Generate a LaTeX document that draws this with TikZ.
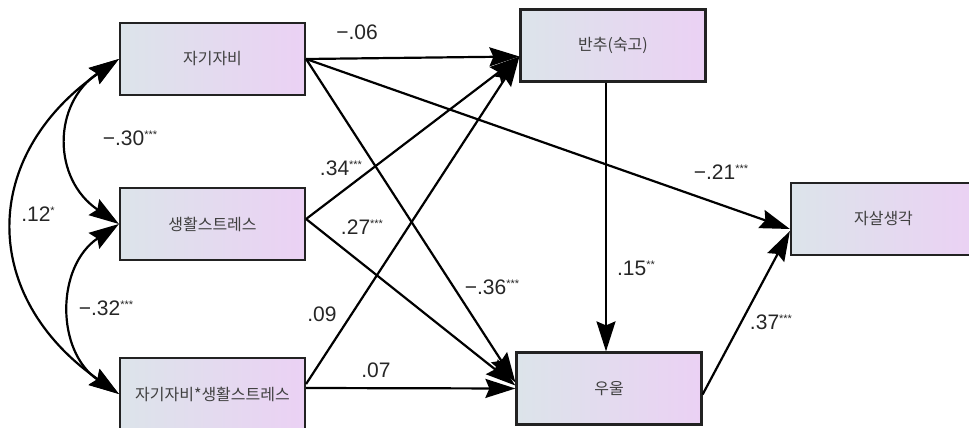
\documentclass[tikz,border=0pt]{standalone}
\usepackage{fontspec}
\setmainfont{Liberation Sans}
\newfontfamily\kor{Noto Sans CJK KR}
\usepackage{tikz}
\usetikzlibrary{positioning}
\usetikzlibrary{calc}
\usetikzlibrary{arrows.meta}
\definecolor{boxleft}{RGB}{220,228,234}
\definecolor{boxright}{RGB}{235,209,244}
\definecolor{boxline}{RGB}{34,34,34}
\newcommand{\stars}[1]{\raisebox{7pt}{\fontsize{11}{11}\selectfont #1}}

\begin{document}
\begin{tikzpicture}
  [
    x=1pt, y=1pt,
    var/.style={
       minimum width =185pt,
       minimum height=72pt,
       draw=boxline,
       line width=2.2pt,
       left color=boxleft,
       right color=boxright,
       font=\kor\fontsize{16}{18}\selectfont,
       text=black!75,
       inner sep=0pt
    },
    path/.style={
       draw=black,
       line width=2.2pt,
       -{Stealth[length=30pt,width=19pt,inset=4pt]}
    },
    cov/.style={
       draw=black,
       line width=2.2pt,
       {Stealth[length=30pt,width=19pt,inset=4pt]}-{Stealth[length=30pt,width=19pt,inset=4pt]}
    },
    coef/.style={
       font=\fontsize{21}{21}\selectfont,
       text=black!85,
       inner sep=0pt
    }
  ]
  \useasboundingbox (0,0) rectangle (969,-428);

  \node (A) at (212.5, -59.0) [var] {자기자비};
  \node (B) at (212.5,-224.0) [var] {생활스트레스};
  \node (C) at (212.5,-394.0) [var] {자기자비*생활스트레스};
  \node (R) at (613.0, -45.5) [var] {반추(숙고)};
  \node (D) at (609.0,-388.5) [var] {우울};
  \node (S) at (883.5,-219.0) [var] {자살생각};

  % paths
  \draw [path] (A.east) -- ($(R.west)+(0,-11)$);
  \draw [path] (A.east) -- ($(D.west)+(0,6)$);
  \draw [path] (A.east) -- ($(S.west)+(0,-10)$);
  \draw [path] ($(B.east)+(0,5)$) -- ($(R.west)+(0,-11)$);
  \draw [path] ($(B.east)+(0,5)$) -- ($(D.west)+(0,3)$);
  \draw [path] ($(C.east)+(0,10)$) -- ($(R.west)+(0,-11)$);
  \draw [path] ($(C.east)+(0,6)$) -- (D.west);
  \draw [path] ($(R.south)+(-7,0)$) -- ($(D.north)+(-3,0)$);
  \draw [path] ($(D.east)+(0,-6)$) -- ($(S.west)+(0,-12)$);

  % covariances
  \draw [cov] (A.west) to [out=214, in=146, looseness=1.25] (B.west);
  \draw [cov] (B.west) to [out=214, in=146, looseness=1.15] (C.west);
  \draw [cov] (A.west) to [out=215, in=145, looseness=1.3] (C.west);

  % coefficients
  \node (kAR) at (357, -32) [coef] {−.06};
  \node (kAB) at (130,-138) [coef] {−.30\stars{***}};
  \node (kBR) at (341,-168) [coef] {.34\stars{***}};
  \node (kAC) at ( 38,-214) [coef] {.12\stars{*}};
  \node (kBD) at (362,-227) [coef] {.27\stars{***}};
  \node (kBC) at (106,-308) [coef] {−.32\stars{***}};
  \node (kCR) at (322,-314) [coef] {.09};
  \node (kCD) at (376,-370) [coef] {.07};
  \node (kAD) at (492,-287) [coef] {−.36\stars{***}};
  \node (kAS) at (721,-172) [coef] {−.21\stars{***}};
  \node (kRD) at (636,-268) [coef] {.15\stars{**}};
  \node (kDS) at (771,-322) [coef] {.37\stars{***}};
\end{tikzpicture}
\end{document}
